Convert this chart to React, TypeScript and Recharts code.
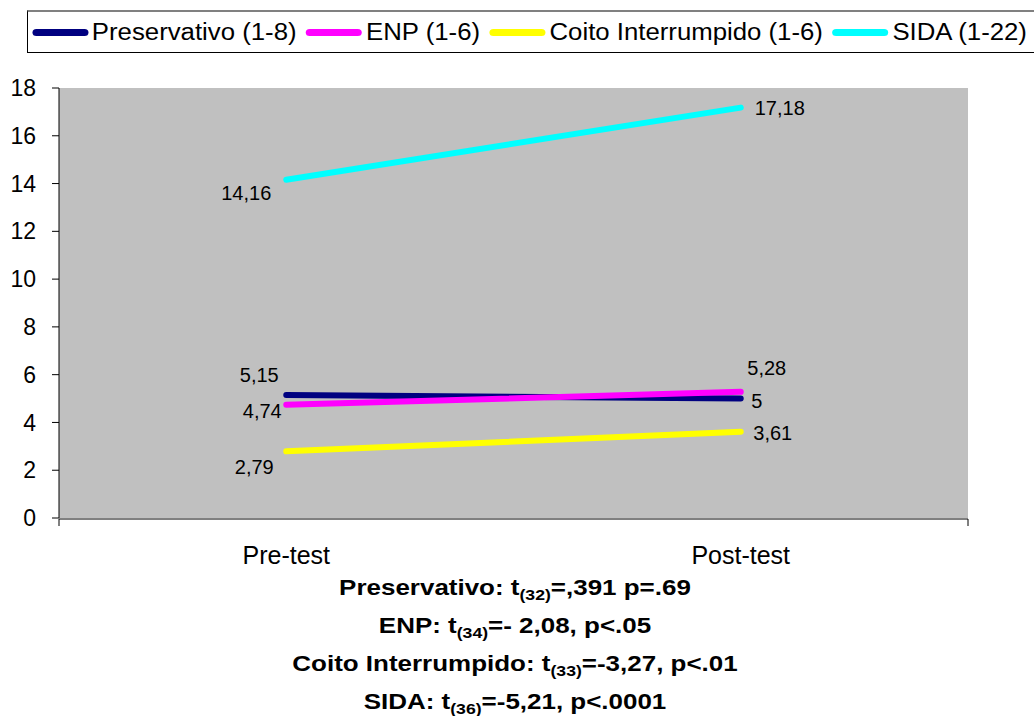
import React from 'react';
import { LineChart, Line, XAxis, YAxis, CartesianGrid, LabelList } from 'recharts';

const categories = ['Pre-test', 'Post-test'];
const preservativo = [5.15, 5];
const enp = [4.74, 5.28];
const coito = [2.79, 3.61];
const sida = [14.16, 17.18];
const yTicks = [0, 2, 4, 6, 8, 10, 12, 14, 16, 18];
const edgeTicks = [0, 1, 2];

const seriesNames = ['Preservativo (1-8)', 'ENP (1-6)', 'Coito Interrumpido (1-6)', 'SIDA (1-22)'];
const seriesKeys = ['preservativo', 'enp', 'coito', 'sida'];
const colors = ['#000080', '#FF00FF', '#FFFF00', '#00FFFF'];

const labelOffsets: number[][][] = [
  [[-27, -20], [16, 2]],
  [[-24, 6], [26, -24]],
  [[-32, 16], [32, 1]],
  [[-40, 13], [39, 0]],
];

const data = categories.map((c, i) => ({
  category: c,
  preservativo: preservativo[i],
  enp: enp[i],
  coito: coito[i],
  sida: sida[i],
}));

const FONT = '"Liberation Sans", Arial, sans-serif';

const fmt = (v: any) => String(v).replace('.', ',');

const makeLabel = (offs: number[][]) => (props: any) => {
  const { x, y, value, index } = props;
  const o = offs[index] || [0, 0];
  return (
    <text
      x={Number(x) + o[0]}
      y={Number(y) + o[1]}
      textAnchor="middle"
      dominantBaseline="central"
      fontSize={20}
      fontFamily={FONT}
      fill="#000"
    >
      {fmt(value)}
    </text>
  );
};

const EmptyTick = () => <g />;

const subStyle: React.CSSProperties = {
  fontSize: '0.68em',
  position: 'relative',
  top: '0.35em',
  verticalAlign: 'baseline',
};

export default function App() {
  return (
    <div
      style={{
        position: 'absolute',
        left: 0,
        top: 0,
        width: 1034,
        height: 716,
        overflow: 'hidden',
        background: '#fff',
        fontFamily: FONT,
      }}
    >
      <div style={{ position: 'absolute', left: 0, top: 0 }}>
        <LineChart
          width={1034}
          height={716}
          data={data}
          margin={{ top: 88, right: 66, bottom: 196, left: 0 }}
          style={{ fontFamily: FONT }}
        >
          <CartesianGrid fill="#C0C0C0" horizontal={false} vertical={false} stroke="none" />
          <XAxis
            xAxisId="edges"
            type="number"
            domain={[0, 2]}
            ticks={edgeTicks}
            interval={0}
            tick={EmptyTick}
            axisLine={{ stroke: '#000', strokeWidth: 1 }}
            tickLine={{ stroke: '#000', strokeWidth: 1 }}
            tickSize={7}
            height={1}
            allowDataOverflow
          />
          <XAxis
            dataKey="category"
            scale="band"
            height={1}
            tickLine={false}
            tickSize={0}
            tickMargin={28}
            axisLine={false}
            tick={{ fontSize: 25, fill: '#000', fontFamily: FONT }}
            interval={0}
          />
          <YAxis
            width={59}
            domain={[0, 18]}
            ticks={yTicks}
            interval={0}
            tickSize={7}
            tickMargin={16}
            axisLine={{ stroke: '#000', strokeWidth: 1 }}
            tickLine={{ stroke: '#000', strokeWidth: 1 }}
            tick={{ fontSize: 23, fill: '#000', fontFamily: FONT }}
          />
          {seriesKeys.map((k, si) => (
            <Line
              key={k}
              dataKey={k}
              name={seriesNames[si]}
              stroke={colors[si]}
              strokeWidth={6}
              strokeLinecap="round"
              dot={false}
              activeDot={false}
              isAnimationActive={false}
            >
              <LabelList dataKey={k} content={makeLabel(labelOffsets[si])} />
            </Line>
          ))}
        </LineChart>
      </div>

      <div
        style={{
          position: 'absolute',
          left: 27,
          top: 10,
          width: 1100,
          height: 43,
          boxSizing: 'border-box',
          borderTop: '2px solid #808080',
          borderLeft: '1px solid #000',
          borderBottom: '1px solid #000',
        }}
      >
        <div
          style={{
            display: 'flex',
            alignItems: 'center',
            height: '100%',
            paddingLeft: 3.5,
            transform: 'scaleX(1.12)',
            transformOrigin: 'left center',
            fontSize: 23,
            whiteSpace: 'nowrap',
            color: '#000',
          }}
        >
          {seriesNames.map((n, i) => (
            <div key={n} style={{ display: 'flex', alignItems: 'center', marginRight: 8.5 }}>
              <div
                style={{
                  width: 50,
                  height: 7,
                  borderRadius: 4,
                  background: colors[i],
                  marginRight: 3.5,
                }}
              />
              <span>{n}</span>
            </div>
          ))}
        </div>
      </div>

      <div
        style={{
          position: 'absolute',
          left: 0,
          top: 570,
          width: 1030,
          textAlign: 'center',
          fontWeight: 'bold',
          fontSize: 22,
          lineHeight: '36px',
          color: '#000',
          transform: 'scaleX(1.18)',
          transformOrigin: '515px center',
          whiteSpace: 'nowrap',
        }}
      >
        <div>
          Preservativo: t<span style={subStyle}>(32)</span>=,391 p=.69
        </div>
        <div>
          ENP: t<span style={subStyle}>(34)</span>=- 2,08, p&lt;.05
        </div>
        <div>
          Coito Interrumpido: t<span style={subStyle}>(33)</span>=-3,27, p&lt;.01
        </div>
        <div>
          SIDA: t<span style={subStyle}>(36)</span>=-5,21, p&lt;.0001
        </div>
      </div>
    </div>
  );
}
